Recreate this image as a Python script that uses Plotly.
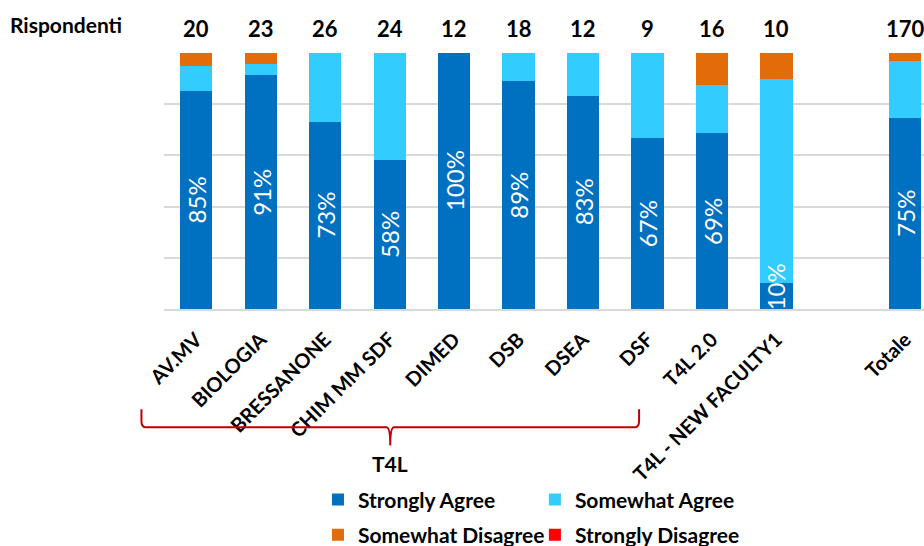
import plotly.graph_objects as go

# Departments (T4L group), the new-faculty cohort and the overall total
categories = ["AV.MV", "BIOLOGIA", "BRESSANONE", "CHIM MM SDF", "DIMED", "DSB",
              "DSEA", "DSF", "T4L 2.0", "T4L - NEW FACULTY1", "Totale"]
positions = [0, 1, 2, 3, 4, 5, 6, 7, 8, 9, 11]  # one empty slot before "Totale"

# Number of respondents per group
respondents = [20, 23, 26, 24, 12, 18, 12, 9, 16, 10, 170]

# Answer counts per group
strongly_agree = [17, 21, 19, 14, 12, 16, 10, 6, 11, 1, 127]
somewhat_agree = [2, 1, 7, 10, 0, 2, 2, 3, 3, 8, 38]
somewhat_disagree = [1, 1, 0, 0, 0, 0, 0, 0, 2, 1, 5]
strongly_disagree = [0, 0, 0, 0, 0, 0, 0, 0, 0, 0, 0]

FONT = "Lato"
X_RANGE = [-0.5, 11.29]
# Bracket grouping the T4L departments, in axis units
t4l_span = (-0.85, 6.87)
# Rotated labels are kept at least this high (in %) so they stay above the baseline
min_label_center = 8.6


def pct(counts):
    return [100.0 * c / n for c, n in zip(counts, respondents)]


def x_to_paper(x):
    return (x - X_RANGE[0]) / (X_RANGE[1] - X_RANGE[0])


series = [
    ("Strongly Agree", strongly_agree, "#0070C0", "legend"),
    ("Somewhat Agree", somewhat_agree, "#33CCFF", "legend2"),
    ("Somewhat Disagree", somewhat_disagree, "#E36C0A", "legend"),
    ("Strongly Disagree", strongly_disagree, "#FF0000", "legend2"),
]

fig = go.Figure()
for name, counts, color, leg in series:
    fig.add_trace(go.Bar(
        x=positions, y=pct(counts), name=name, width=0.5,
        marker=dict(color=color, line=dict(width=0)),
        legend=leg, legendgroup=name, hoverinfo="skip",
    ))

# Percentage of "Strongly Agree" written vertically inside each bar
for x, v in zip(positions, pct(strongly_agree)):
    fig.add_annotation(x=x, xref="x", y=max(v / 2, min_label_center), yref="y",
                       text=f"{round(v)}%", textangle=-90, showarrow=False,
                       xanchor="center", yanchor="middle",
                       font=dict(family=FONT, size=24, color="white"))

# Respondent counts above each bar
for x, n in zip(positions, respondents):
    fig.add_annotation(x=x, xref="x", y=1.0965, yref="paper", text=f"<b>{n}</b>",
                       showarrow=False, xanchor="center", yanchor="middle",
                       font=dict(family=FONT, size=22, color="black"))

fig.add_annotation(x=-0.1285, xref="paper", y=1.112, yref="paper", text="<b>Rispondenti</b>",
                   showarrow=False, xanchor="center", yanchor="middle",
                   font=dict(family=FONT, size=21, color="black"))

# Curly bracket under the T4L departments
x0, x1 = x_to_paper(t4l_span[0]), x_to_paper(t4l_span[1])
xm = (x0 + x1) / 2
ya, yb, yc = -0.392, -0.462, -0.533
d, e = 0.005, 0.025
brace = (f"M {x0},{ya} L {x0},{yb + e} Q {x0},{yb} {x0 + d},{yb} "
         f"L {xm - d},{yb} Q {xm},{yb} {xm},{yc} Q {xm},{yb} {xm + d},{yb} "
         f"L {x1 - d},{yb} Q {x1},{yb} {x1},{yb + e} L {x1},{ya}")
fig.add_shape(type="path", path=brace, xref="paper", yref="paper",
              line=dict(color="#C00000", width=2))
fig.add_annotation(x=xm, xref="paper", y=-0.603, yref="paper", text="<b>T4L</b>",
                   showarrow=False, xanchor="center", yanchor="middle",
                   font=dict(family=FONT, size=21, color="black"))

legend_font = dict(family=FONT, size=21, color="black", weight="bold")
legend_common = dict(y=-0.665, yanchor="top", xanchor="left", orientation="v",
                     font=legend_font, tracegroupgap=5, maxheight=300,
                     bgcolor="rgba(0,0,0,0)")
fig.update_layout(
    width=924, height=546,
    margin=dict(l=164, r=0, t=53, b=237, autoexpand=False),
    paper_bgcolor="white", plot_bgcolor="white",
    barmode="stack",
    xaxis=dict(
        range=X_RANGE, tickmode="array", tickvals=positions,
        ticktext=[f"<b>{c}</b>" for c in categories], tickangle=-45,
        tickfont=dict(family=FONT, size=20, color="black"),
        showgrid=False, zeroline=False, showline=True, linecolor="#D9D9D9",
        linewidth=2, ticks="", automargin=False, ticklabelstandoff=9,
    ),
    yaxis=dict(
        range=[0, 100], tickvals=[0, 20, 40, 60, 80, 100], showticklabels=False,
        showgrid=True, gridcolor="#D9D9D9", gridwidth=2, zeroline=False, ticks="",
        automargin=False,
    ),
    legend=dict(x=0.2026, **legend_common),
    legend2=dict(x=0.488, **legend_common),
    showlegend=True,
)

fig.write_html("out.html")
